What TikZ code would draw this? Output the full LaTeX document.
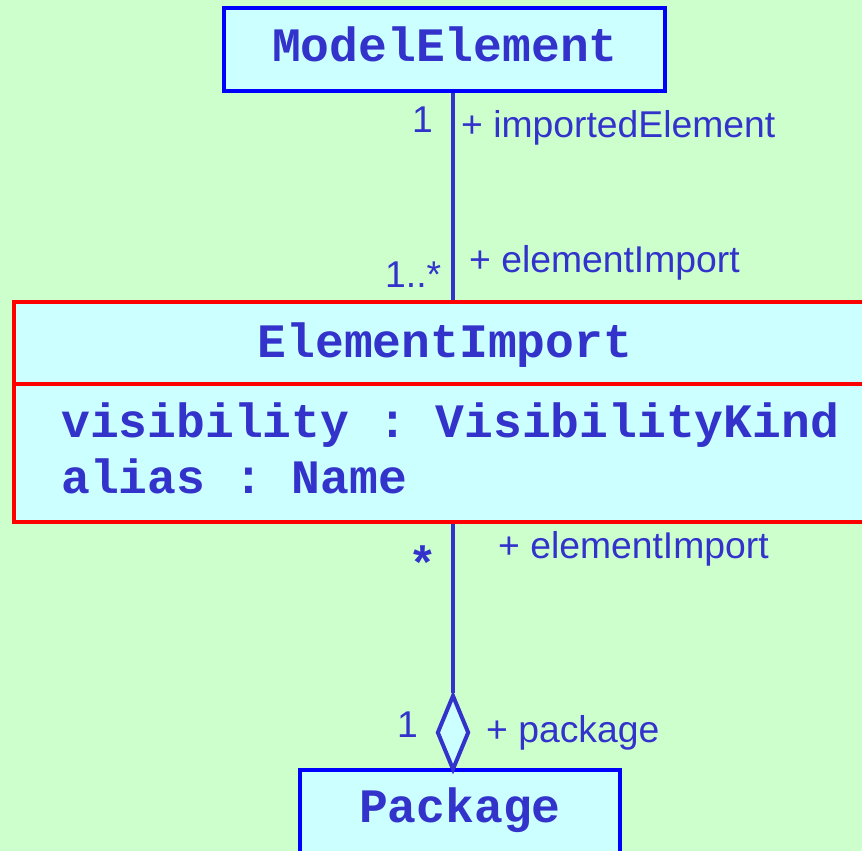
\documentclass[tikz,border=0pt]{standalone}
\usepackage{fontspec}
\setmainfont{Liberation Sans}
\setmonofont{Liberation Mono}
\usetikzlibrary{shapes.geometric}
\definecolor{bgc}{RGB}{204,255,204}
\definecolor{fillc}{RGB}{204,255,255}
\definecolor{txtc}{RGB}{51,51,204}
\definecolor{bluec}{RGB}{0,0,255}
\definecolor{redc}{RGB}{255,0,0}
\begin{document}
\begin{tikzpicture}[x=1pt,y=-1pt,
 clsbox/.style={draw=bluec, fill=fillc, line width=4.5pt, inner sep=0pt},
 redbox/.style={draw=redc, fill=fillc, line width=4pt, inner sep=0pt},
 clsname/.style={text=txtc, font=\fontsize{48}{48}\selectfont\ttfamily\bfseries, inner sep=0pt, anchor=base},
 attr/.style={clsname, anchor=base west},
 lbl/.style={text=txtc, font=\fontsize{37.3}{37.3}\selectfont, inner sep=0pt},
 conn/.style={draw=txtc, line width=4pt},
 agg/.style={diamond, draw=txtc, fill=fillc, line width=4pt, inner sep=0pt, minimum width=32pt, minimum height=75pt}]
\fill[bgc] (0,0) rectangle (862,851);
\useasboundingbox (0,0) rectangle (862,851);
% classes
\node[clsbox, minimum width=441pt, minimum height=83pt] (me) at (444.5,49.5) {};
\node[clsname] (met) at (445,62) {ModelElement};
\node[redbox, minimum width=856pt, minimum height=220pt] (ei) at (442,412) {};
\draw[redc, line width=4pt] (14,384) -- (870,384);
\node[clsname] (eit) at (445,357) {ElementImport};
\node[attr] (a1) at (61,437) {visibility : VisibilityKind};
\node[attr] (a2) at (61,493) {alias : Name};
\node[clsbox, minimum width=320pt, minimum height=90pt] (pk) at (460,815) {};
\node[clsname] (pkt) at (460,822) {Package};
% connectors
\node[agg] (dia) at (453,732.5) {};
\coordinate (lx) at (453,0);
\draw[conn] (lx |- me.south) -- (lx |- ei.north);
\draw[conn] (lx |- ei.south) -- (dia.north);
% labels
\node[lbl, anchor=base east] (m1) at (433,132) {1};
\node[lbl, anchor=base west] (r1) at (461,137) {+ importedElement};
\node[lbl, anchor=base west] (m2) at (385,287) {1..*};
\node[lbl, anchor=base west] (r2) at (469,272) {+ elementImport};
\node[clsname] (m3) at (423,580) {*};
\node[lbl, anchor=base west] (r3) at (498,558) {+ elementImport};
\node[lbl, anchor=base east] (m4) at (418,737) {1};
\node[lbl, anchor=base west] (r4) at (486,742) {+ package};
\end{tikzpicture}
\end{document}
